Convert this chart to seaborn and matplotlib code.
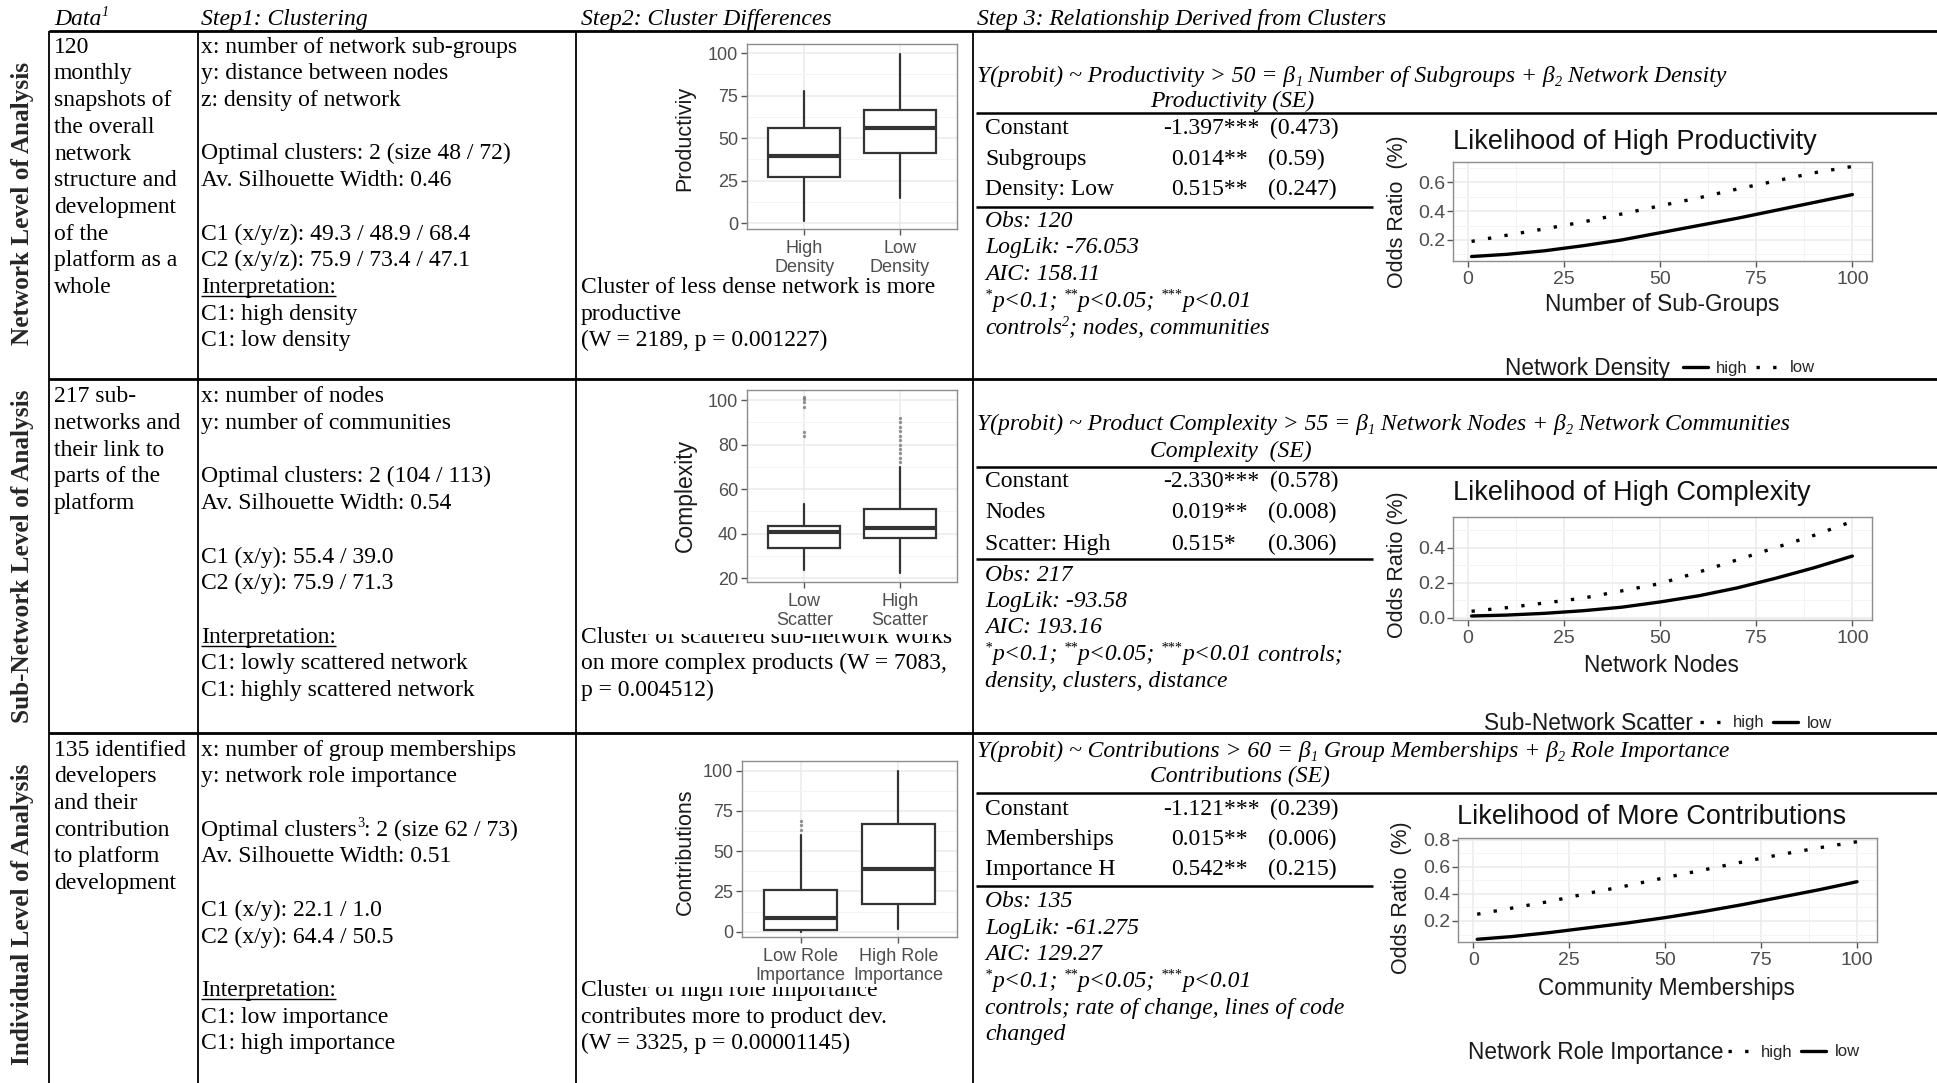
import numpy as np
import pandas as pd
import matplotlib
matplotlib.use("Agg")
import matplotlib.pyplot as plt
import seaborn as sns
from matplotlib.lines import Line2D
from matplotlib.patches import Rectangle
from matplotlib.font_manager import FontProperties
from matplotlib.ticker import FixedLocator, FormatStrFormatter

# ---------------------------------------------------------------- data
# Step 2 box plots: [whisker low, Q1, median, Q3, whisker high]
prod_labels = ["High\nDensity", "Low\nDensity"]
prod_high_density = [1.0, 27.0, 39.5, 55.7, 77.8]
prod_low_density = [14.7, 41.2, 55.9, 66.7, 99.6]

cplx_labels = ["Low\nScatter", "High\nScatter"]
cplx_low_scatter = [23.7, 33.5, 40.9, 43.5, 53.2]
cplx_high_scatter = [22.2, 37.9, 42.4, 51.1, 70.1]
cplx_low_outliers = [84.0, 85.5, 97.0, 99.0, 100.5, 101.5]
cplx_high_outliers = [72, 74, 76, 78, 80, 82, 84, 86, 88, 90, 92]

contr_labels = ["Low Role\nImportance", "High Role\nImportance"]
contr_low_role = [0.0, 1.0, 8.7, 25.9, 60.0]
contr_high_role = [1.7, 17.0, 38.9, 66.9, 100.0]
contr_low_outliers = [63.0, 66.0, 69.0]

# Step 3 predicted probabilities
odds_x = [1, 10, 20, 30, 40, 50, 60, 70, 80, 90, 100]
prod_density_high = [0.085, 0.10, 0.125, 0.16, 0.20, 0.25, 0.30, 0.35, 0.405, 0.46, 0.515]
prod_density_low = [0.19, 0.232, 0.277, 0.325, 0.38, 0.437, 0.492, 0.553, 0.609, 0.666, 0.71]
cplx_scatter_high = [0.037, 0.057, 0.084, 0.112, 0.153, 0.195, 0.26, 0.33, 0.40, 0.47, 0.55]
cplx_scatter_low = [0.01, 0.015, 0.025, 0.04, 0.06, 0.09, 0.125, 0.17, 0.225, 0.285, 0.352]
contr_role_high = [0.25, 0.295, 0.345, 0.405, 0.46, 0.52, 0.577, 0.635, 0.69, 0.74, 0.785]
contr_role_low = [0.065, 0.085, 0.115, 0.15, 0.185, 0.225, 0.27, 0.32, 0.375, 0.43, 0.49]

# table text
headers = ["Data", "Step1: Clustering", "Step2: Cluster Differences",
           "Step 3: Relationship Derived from Clusters"]
row_titles = ["Network Level of Analysis", "Sub-Network Level of Analysis",
              "Individual Level of Analysis"]
data_text = [
    ["120", "monthly", "snapshots of", "the overall", "network", "structure and",
     "development", "of the", "platform as a", "whole"],
    ["217 sub-", "networks and", "their link to", "parts of the", "platform"],
    ["135 identified", "developers", "and their", "contribution", "to platform",
     "development"],
]
cluster_text = [
    ["x: number of network sub-groups", "y: distance between nodes", "z: density of network", "",
     "Optimal clusters: 2 (size 48 / 72)", "Av. Silhouette Width: 0.46", "",
     "C1 (x/y/z): 49.3 / 48.9 / 68.4", "C2 (x/y/z): 75.9 / 73.4 / 47.1",
     "Interpretation:", "C1: high density", "C1: low density"],
    ["x: number of nodes", "y: number of communities", "",
     "Optimal clusters: 2 (104 / 113)", "Av. Silhouette Width: 0.54", "",
     "C1 (x/y): 55.4 / 39.0", "C2 (x/y): 75.9 / 71.3", "",
     "Interpretation:", "C1: lowly scattered network", "C1: highly scattered network"],
    ["x: number of group memberships", "y: network role importance", "",
     [("Optimal clusters", "n"), ("3", "sup"), (": 2 (size 62 / 73)", "n")],
     "Av. Silhouette Width: 0.51", "",
     "C1 (x/y): 22.1 / 1.0", "C2 (x/y): 64.4 / 50.5", "",
     "Interpretation:", "C1: low importance", "C1: high importance"],
]
difference_text = [
    ["Cluster of less dense network is more", "productive", "(W = 2189, p = 0.001227)"],
    ["Cluster of scattered sub-network works", "on more complex products (W = 7083,",
     "p = 0.004512)"],
    ["Cluster of high role importance", "contributes more to product dev.",
     "(W = 3325, p = 0.00001145)"],
]
equations = [
    [("Y(probit) ~ Productivity > 50 = \u03b2", "n"), ("1", "sub"),
     (" Number of Subgroups + \u03b2", "n"), ("2", "sub"), (" Network Density", "n")],
    [("Y(probit) ~ Product Complexity > 55 = \u03b2", "n"), ("1", "sub"),
     (" Network Nodes + \u03b2", "n"), ("2", "sub"), (" Network Communities", "n")],
    [("Y(probit) ~ Contributions > 60 = \u03b2", "n"), ("1", "sub"),
     (" Group Memberships + \u03b2", "n"), ("2", "sub"), (" Role Importance", "n")],
]
se_heads = ["Productivity (SE)", "Complexity  (SE)", "Contributions (SE)"]
coef_rows = [
    [("Constant", "-1.397***", "(0.473)"), ("Subgroups", "0.014**", "(0.59)"),
     ("Density: Low", "0.515**", "(0.247)")],
    [("Constant", "-2.330***", "(0.578)"), ("Nodes", "0.019**", "(0.008)"),
     ("Scatter: High", "0.515*", "(0.306)")],
    [("Constant", "-1.121***", "(0.239)"), ("Memberships", "0.015**", "(0.006)"),
     ("Importance H", "0.542**", "(0.215)")],
]
signif = [("*", "sup"), ("p<0.1; ", "n"), ("**", "sup"), ("p<0.05; ", "n"),
          ("***", "sup"), ("p<0.01", "n")]
fit_text = [
    ["Obs: 120", "LogLik: -76.053", "AIC: 158.11", signif,
     [("controls", "n"), ("2", "sup"), ("; nodes, communities", "n")]],
    ["Obs: 217", "LogLik: -93.58", "AIC: 193.16", signif + [(" controls;", "n")],
     "density, clusters, distance"],
    ["Obs: 135", "LogLik: -61.275", "AIC: 129.27", signif,
     "controls; rate of change, lines of code", "changed"],
]

# ---------------------------------------------------------------- setup
W, H = 1937, 1083
sns.set_theme(style="whitegrid")
SERIF = ["Liberation Serif", "DejaVu Serif"]
SANS = ["Liberation Sans", "DejaVu Sans"]
plt.rcParams["font.family"] = SERIF
plt.rcParams["lines.dash_capstyle"] = "butt"
FS = 17.0
GREY_TXT = "#4D4D4D"

fig = plt.figure(figsize=(W / 100, H / 100), dpi=100, facecolor="white")
renderer = fig.canvas.get_renderer()


def fx(px):
    return px / W


def fy(py):
    return 1.0 - py / H


def hline(x0, x1, y, lw=1.6, z=2):
    fig.add_artist(Line2D([fx(x0), fx(x1)], [fy(y), fy(y)], transform=fig.transFigure,
                          color="black", lw=lw, solid_capstyle="butt", zorder=z))


def vline(x, y0, y1, lw=1.3):
    fig.add_artist(Line2D([fx(x), fx(x)], [fy(y0), fy(y1)], transform=fig.transFigure,
                          color="black", lw=lw, solid_capstyle="butt", zorder=2))


def seg_width(s, fp):
    w1 = renderer.get_text_width_height_descent("|" + s + "|", fp, ismath=False)[0]
    w0 = renderer.get_text_width_height_descent("||", fp, ismath=False)[0]
    return w1 - w0


def rich(x, y, parts, size=FS, style="normal", weight="normal", underline=False):
    """Draw a line of text made of normal / superscript / subscript runs; y is the baseline."""
    if isinstance(parts, str):
        parts = [(parts, "n")]
    cx = x
    k = 100 / 72
    for s, kind in parts:
        fs = size if kind == "n" else size * 0.6
        off = {"n": 0.0, "sup": -0.36 * size * k, "sub": 0.16 * size * k}[kind]
        fp = FontProperties(family=SERIF, style=style, weight=weight, size=fs)
        fig.text(fx(cx), fy(y + off), s, fontproperties=fp, ha="left", va="baseline",
                 color="black", zorder=3)
        cx += seg_width(s, fp)
    if underline:
        hline(x, cx, y + 3, lw=1.0)
    return cx


BASE = 7  # baseline offset below a line's visual centre

# ---------------------------------------------------------------- table frame
for y in [31, 379, 733]:
    hline(49, W, y, lw=2.0)
for x in [49, 198, 576, 973]:
    vline(x, 31, H)
for y in [113, 467, 793]:
    hline(976, W, y, lw=1.8)
for y in [207, 559, 886]:
    hline(976, 1373, y, lw=1.8)

# header row
rich(54, 18 + BASE, [(headers[0], "n"), ("1", "sup")], style="italic")
rich(201, 18 + BASE, headers[1], style="italic")
rich(581, 18 + BASE, headers[2], style="italic")
rich(977, 18 + BASE, headers[3], style="italic")

# rotated row titles
for title, yc in zip(row_titles, [203, 556, 914]):
    fig.text(fx(23), fy(yc), title, rotation=90, ha="center", va="center",
             fontfamily=SERIF, fontweight="bold", fontsize=18.2, zorder=3)

ROW_TOP = [45.7, 395.3, 748.6]
LSP = 26.7
for r in range(3):
    for i, line in enumerate(data_text[r]):
        rich(54, ROW_TOP[r] + i * LSP + BASE, line)
    for i, line in enumerate(cluster_text[r]):
        if line == "":
            continue
        rich(201, ROW_TOP[r] + i * LSP + BASE, line, underline=(line == "Interpretation:"))
    for i, line in enumerate(difference_text[r]):
        rich(581, ROW_TOP[r] + (9 + i) * LSP + BASE, line)

# Step 3 text blocks
eq_y = [75, 423, 750]
se_y = [100, 450, 775]
coef_y = [[127, 158, 188], [480, 511, 543], [808, 838, 868]]
fit_y = [[220, 246, 273, 300, 327], [574, 600, 626, 653, 680],
         [900, 927, 953, 980, 1007, 1033]]
for r in range(3):
    rich(977, eq_y[r] + BASE, equations[r], style="italic")
    rich(1150, se_y[r] + BASE, se_heads[r], style="italic")
    for (name, coef, se), yc in zip(coef_rows[r], coef_y[r]):
        rich(985, yc + BASE, name)
        rich(1163 if coef.startswith("-") else 1171, yc + BASE, coef)
        rich(1270 if coef.startswith("-") else 1268, yc + BASE, se)
    for line, yc in zip(fit_text[r], fit_y[r]):
        rich(985, yc + BASE, line, style="italic")

# white canvas of the Step 2 graphics (covers the top of the caption below them)
for (y0, y1) in [(385, 634), (755, 987)]:
    fig.add_artist(Rectangle((fx(632), fy(y1)), fx(968) - fx(632), (y1 - y0) / H,
                             transform=fig.transFigure, facecolor="white",
                             edgecolor="none", zorder=4))


# ---------------------------------------------------------------- Step 2 box plots
def style_panel(ax, label_size, pad=2.5):
    ax.set_facecolor("white")
    ax.set_axisbelow(True)
    for sp in ax.spines.values():
        sp.set_visible(True)
        sp.set_color("#8c8c8c")
        sp.set_linewidth(1.0)
    ax.tick_params(which="major", bottom=True, left=True, length=4, width=1.0,
                   color="#555555", labelcolor=GREY_TXT, labelsize=label_size, pad=pad)
    ax.tick_params(which="minor", length=0)
    for lab in ax.get_xticklabels() + ax.get_yticklabels():
        lab.set_fontfamily(SANS)


def box_panel(box, stats, fliers, labels, ylim, yticks, yminor, ylabel, ylabel_y, ylabel_size):
    x0, y0, x1, y1 = box
    ax = fig.add_axes([fx(x0), fy(y1), (x1 - x0) / W, (y1 - y0) / H])
    ax.set_zorder(5)
    bstats = [dict(whislo=s[0], q1=s[1], med=s[2], q3=s[3], whishi=s[4], fliers=f)
              for s, f in zip(stats, fliers)]
    ax.bxp(bstats, positions=[1, 2], widths=0.75, showcaps=False, patch_artist=True,
           boxprops=dict(facecolor="white", edgecolor="#333333", linewidth=1.6),
           medianprops=dict(color="#333333", linewidth=3.0),
           whiskerprops=dict(color="#333333", linewidth=1.6),
           flierprops=dict(marker="o", markersize=2.4, markerfacecolor="#666666",
                           markeredgecolor="none", alpha=0.7))
    ax.set_xlim(0.4, 2.6)
    ax.set_ylim(*ylim)
    ax.set_xticks([1, 2])
    ax.set_xticklabels(labels, linespacing=1.12)
    ax.set_yticks(yticks)
    ax.yaxis.set_minor_locator(FixedLocator(yminor))
    ax.xaxis.grid(True, which="major", color="#EBEBEB", lw=1.1)
    ax.yaxis.grid(True, which="major", color="#EBEBEB", lw=1.1)
    ax.yaxis.grid(True, which="minor", color="#F4F4F4", lw=0.7)
    ax.set_xlabel("")
    ax.set_ylabel("")
    style_panel(ax, 13)
    ax.tick_params(axis="x", pad=4)
    fig.text(fx(685), fy(ylabel_y), ylabel, rotation=90, ha="center", va="center",
             fontfamily=SANS, fontsize=ylabel_size, color="#1a1a1a", zorder=6)
    return ax


box_panel((747, 44, 957, 229), [prod_high_density, prod_low_density], [[], []],
          prod_labels, (-3.5, 105.3), [0, 25, 50, 75, 100], [12.5, 37.5, 62.5, 87.5],
          "Productiviy", 138, 15.5)
box_panel((747, 390, 957, 582), [cplx_low_scatter, cplx_high_scatter],
          [cplx_low_outliers, cplx_high_outliers],
          cplx_labels, (18.3, 104.5), [20, 40, 60, 80, 100], [30, 50, 70, 90],
          "Complexity", 495, 16.5)
box_panel((742, 761, 957, 937), [contr_low_role, contr_high_role], [contr_low_outliers, []],
          contr_labels, (-3.3, 106), [0, 25, 50, 75, 100], [12.5, 37.5, 62.5, 87.5],
          "Contributions", 852, 15.5)


# ---------------------------------------------------------------- Step 3 line charts
DOT = (1, 4)


def odds_panel(box, high, low, high_dashes, xlim, ylim, yticks, yminor,
               title, title_xy, title_size, xlabel, xlabel_xy, ylabel, ylabel_xy,
               leg_title, leg_title_right, leg_start, leg_y):
    x0, y0, x1, y1 = box
    ax = fig.add_axes([fx(x0), fy(y1), (x1 - x0) / W, (y1 - y0) / H])
    ax.set_zorder(5)
    df = pd.DataFrame({
        "x": odds_x + odds_x,
        "odds": high + low,
        "level": ["high"] * len(odds_x) + ["low"] * len(odds_x),
    })
    low_dashes = "" if high_dashes != "" else DOT
    sns.lineplot(data=df, x="x", y="odds", style="level",
                 dashes={"high": high_dashes, "low": low_dashes},
                 color="black", linewidth=2.4, errorbar=None, legend=False, ax=ax)
    ax.set_xlim(*xlim)
    ax.set_ylim(*ylim)
    ax.set_xticks([0, 25, 50, 75, 100])
    ax.xaxis.set_minor_locator(FixedLocator([12.5, 37.5, 62.5, 87.5]))
    ax.set_yticks(yticks)
    ax.yaxis.set_major_formatter(FormatStrFormatter("%.1f"))
    ax.yaxis.set_minor_locator(FixedLocator(yminor))
    ax.grid(True, which="major", color="#EBEBEB", lw=1.1)
    ax.grid(True, which="minor", color="#F4F4F4", lw=0.7)
    ax.set_xlabel("")
    ax.set_ylabel("")
    style_panel(ax, 14)
    ax.tick_params(axis="y", pad=1.5)
    ax.tick_params(axis="x", pad=3)

    fig.text(fx(title_xy[0]), fy(title_xy[1]), title, ha="left", va="center",
             fontfamily=SANS, fontsize=title_size, color="#111111", zorder=6)
    fig.text(fx(xlabel_xy[0]), fy(xlabel_xy[1]), xlabel, ha="center", va="center",
             fontfamily=SANS, fontsize=16.3, color="#1a1a1a", zorder=6)
    fig.text(fx(ylabel_xy[0]), fy(ylabel_xy[1]), ylabel, rotation=90, ha="center",
             va="center", fontfamily=SANS, fontsize=15.5, color="#1a1a1a", zorder=6)

    def handle(d):
        if d == "":
            return Line2D([], [], color="black", lw=2.4)
        return Line2D([], [], color="black", lw=2.4, dashes=d)

    leg = fig.legend([handle(high_dashes), handle(low_dashes)], ["high", "low"],
                     loc="center left", bbox_to_anchor=(fx(leg_start), fy(leg_y)),
                     ncol=2, frameon=False, prop=FontProperties(family=SANS, size=12),
                     handlelength=1.5, handletextpad=0.5, columnspacing=0.5,
                     borderpad=0, borderaxespad=0)
    leg.set_zorder(6)
    fig.text(fx(leg_title_right), fy(leg_y), leg_title, ha="right", va="center",
             fontfamily=SANS, fontsize=16.3, color="#1a1a1a", zorder=6)
    return ax


odds_panel((1453, 162, 1872, 261), prod_density_high, prod_density_low, "",
           (-3.82, 105.1), (0.054, 0.741), [0.2, 0.4, 0.6], [0.1, 0.3, 0.5, 0.7],
           "Likelihood of High Productivity", (1453, 142), 19.5,
           "Number of Sub-Groups", (1662, 305), "Odds Ratio  (%)", (1397, 212),
           "Network Density", 1670, 1683, 368)
odds_panel((1453, 517, 1872, 620), cplx_scatter_high, cplx_scatter_low, DOT,
           (-3.82, 105.1), (-0.013, 0.575), [0.0, 0.2, 0.4], [0.1, 0.3, 0.5],
           "Likelihood of High Complexity", (1453, 493), 19.5,
           "Network Nodes", (1661, 665), "Odds Ratio (%)", (1397, 565),
           "Sub-Network Scatter", 1693, 1700, 723)
odds_panel((1458, 838, 1877, 942), contr_role_high, contr_role_low, DOT,
           (-4.0, 105.2), (0.045, 0.8125), [0.2, 0.4, 0.6, 0.8], [0.1, 0.3, 0.5, 0.7],
           "Likelihood of More Contributions", (1457, 817), 19.5,
           "Community Memberships", (1666, 988), "Odds Ratio  (%)", (1402, 898),
           "Network Role Importance", 1723, 1728, 1052)

fig.savefig("out.png", dpi=100, facecolor="white")
